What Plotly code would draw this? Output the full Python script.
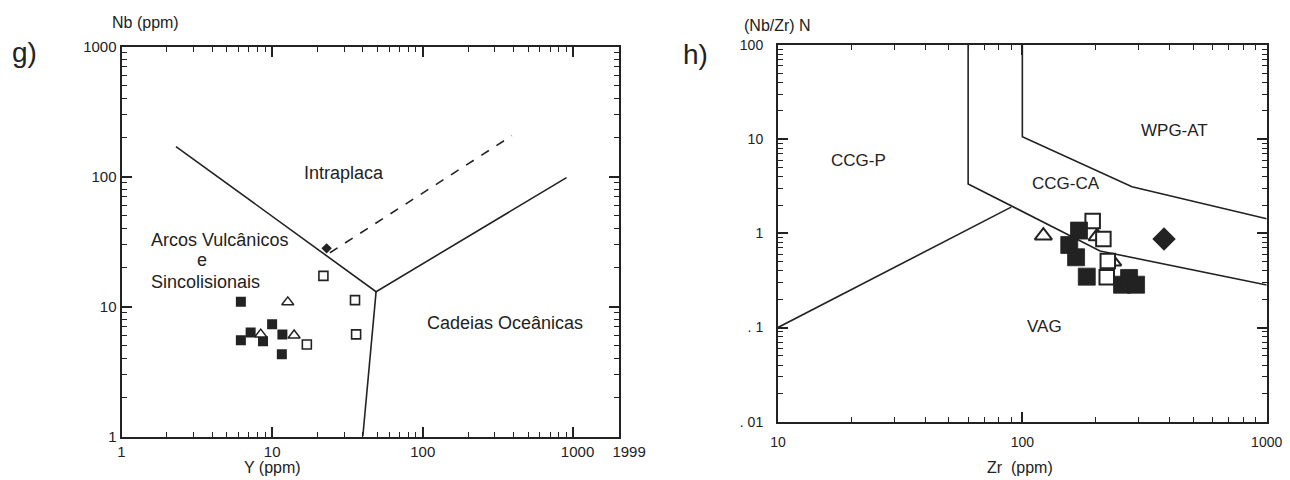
import plotly.graph_objects as go
import math

# ---------------- Panel g) Nb vs Y ----------------
g_fill_Y = [6.2, 6.2, 7.2, 8.7, 10.0, 11.7, 11.6]
g_fill_Nb = [10.9, 5.5, 6.3, 5.4, 7.3, 6.1, 4.3]
g_tri_Y = [12.7, 8.4, 14.0]
g_tri_Nb = [10.8, 6.1, 6.0]
g_open_Y = [21.9, 35.5, 36.1, 17.0]
g_open_Nb = [17.2, 11.2, 6.1, 5.1]
g_dia_Y = [23.0]
g_dia_Nb = [28.0]

g_line1_Y = [2.3, 49, 900]
g_line1_Nb = [170, 13, 98]
g_line2_Y = [49, 40]
g_line2_Nb = [13, 1]
g_dash_Y = [24.2, 390]
g_dash_Nb = [25.9, 206]

g_xticks = [1, 10, 100, 1000, 1999]
g_xtext = ["1", "10", "100", "\u00a0\u00a01000", "\u00a0\u00a0\u00a0\u00a0\u00a01999"]
g_yticks = [1, 10, 100, 1000]
g_ytext = ["1", "10", "100", "1000"]

# ---------------- Panel h) (Nb/Zr)N vs Zr ----------------
h_fill_Zr = [170.6, 155.6, 165.9, 183.5, 255.9, 273.4, 292]
h_fill_R = [1.07, 0.753, 0.557, 0.347, 0.285, 0.336, 0.285]
h_open_Zr = [194, 214.6, 223.7, 221.5]
h_open_R = [1.354, 0.872, 0.509, 0.342]
h_tri_Zr = [121.9, 202.2, 234.4]
h_tri_R = [0.945, 0.927, 0.50]
h_dia_Zr = [380]
h_dia_R = [0.872]

h_lineA_Zr = [60, 60, 208, 1000]
h_lineA_R = [100, 3.35, 0.65, 0.283]
h_lineB_Zr = [100, 100, 281, 1000]
h_lineB_R = [100, 10.6, 3.13, 1.43]
h_lineC_Zr = [10, 90]
h_lineC_R = [0.1, 1.9]

h_xticks = [10, 100, 1000]
h_xtext = ["10", "100", "1000"]
h_yticks = [0.01, 0.1, 1, 10, 100]
h_ytext = [". 01", ". 1", "1", "10", "100"]

INK = "#222222"
FONT = "Liberation Sans, Arial, sans-serif"

# page body has an 8px margin: figure occupies window from (8, 8)
OFF = 8
FW, FH = 1290 - OFF, 480 - OFF


def PX(p):
    return (p - OFF) / FW


def PY(p):
    return 1 - (p - OFF) / FH


def minor_vals(lo_exp, hi_exp, upto=None):
    vals = []
    for e in range(lo_exp, hi_exp):
        for m in range(2, 10):
            v = m * 10 ** e
            if upto is None or v < upto:
                vals.append(v)
    return vals


fig = go.Figure()


def add_line(x, y, xa, ya, dash="solid"):
    fig.add_trace(go.Scatter(x=x, y=y, mode="lines", xaxis=xa, yaxis=ya,
                             line=dict(color=INK, width=1.6, dash=dash),
                             hoverinfo="skip", showlegend=False))


def add_marks(x, y, xa, ya, symbol, size, fill, lw):
    fig.add_trace(go.Scatter(x=x, y=y, mode="markers", xaxis=xa, yaxis=ya,
                             marker=dict(symbol=symbol, size=size, color=fill,
                                         line=dict(color=INK, width=lw)),
                             showlegend=False))


# panel g lines
add_line(g_line1_Y, g_line1_Nb, "x", "y")
add_line(g_line2_Y, g_line2_Nb, "x", "y")
add_line(g_dash_Y, g_dash_Nb, "x", "y", dash="dash")
# panel g markers
add_marks(g_fill_Y, g_fill_Nb, "x", "y", "square", 10, INK, 0)
add_marks(g_tri_Y, g_tri_Nb, "x", "y", "triangle-up", 10.5, "white", 1.5)
add_marks(g_open_Y, g_open_Nb, "x", "y", "square", 9, "white", 1.6)
add_marks(g_dia_Y, g_dia_Nb, "x", "y", "diamond", 8, INK, 0)

# panel h lines
add_line(h_lineA_Zr, h_lineA_R, "x2", "y2")
add_line(h_lineB_Zr, h_lineB_R, "x2", "y2")
add_line(h_lineC_Zr, h_lineC_R, "x2", "y2")
# panel h markers
add_marks(h_tri_Zr, h_tri_R, "x2", "y2", "triangle-up", 15, "white", 2)
add_marks(h_open_Zr, h_open_R, "x2", "y2", "square", 14.5, "white", 2)
add_marks(h_fill_Zr, h_fill_R, "x2", "y2", "square", 17, INK, 0.8)
add_marks(h_dia_Zr, h_dia_R, "x2", "y2", "diamond", 18, INK, 0)

axis_common = dict(type="log", showline=True, linecolor=INK, linewidth=2,
                   mirror="ticks", ticks="inside", tickcolor=INK, tickwidth=1.5,
                   showgrid=False, zeroline=False, tickmode="array",
                   color=INK, automargin=False, tickangle=0)

fig.update_layout(
    width=FW, height=FH, autosize=False, showlegend=False,
    margin=dict(l=0, r=0, t=0, b=0, pad=0, autoexpand=False),
    paper_bgcolor="white", plot_bgcolor="white",
    font=dict(family=FONT, color=INK),
    xaxis=dict(axis_common, domain=[PX(121.5), PX(618.7)],
               range=[0, math.log10(1999)], anchor="y",
               tickvals=g_xticks, ticktext=g_xtext, ticklen=10,
               tickfont=dict(size=15), ticklabelstandoff=0,
               minor=dict(tickmode="array", tickvals=minor_vals(0, 4, 1999),
                          ticks="inside", ticklen=5, tickcolor=INK, tickwidth=1.3)),
    yaxis=dict(axis_common, domain=[PY(436.5), PY(46.5)],
               range=[0, 3], anchor="x",
               tickvals=g_yticks, ticktext=g_ytext, ticklen=10,
               tickfont=dict(size=15), ticklabelstandoff=0,
               minor=dict(tickmode="array", tickvals=minor_vals(0, 3),
                          ticks="inside", ticklen=5, tickcolor=INK, tickwidth=1.3)),
    xaxis2=dict(axis_common, domain=[PX(778), PX(1266.7)],
                range=[1, 3], anchor="y2",
                tickvals=h_xticks, ticktext=h_xtext, ticklen=10,
                tickfont=dict(size=14), ticklabelstandoff=6,
                minor=dict(tickmode="array", tickvals=minor_vals(1, 3),
                           ticks="inside", ticklen=5, tickcolor=INK, tickwidth=1.3)),
    yaxis2=dict(axis_common, domain=[PY(421.7), PY(45)],
                range=[-2, 2], anchor="x2",
                tickvals=h_yticks, ticktext=h_ytext, ticklen=10,
                tickfont=dict(size=14), ticklabelstandoff=10,
                minor=dict(tickmode="array", tickvals=minor_vals(-2, 2),
                           ticks="inside", ticklen=5, tickcolor=INK, tickwidth=1.3)),
)

# region labels (annotation coords on log axes are log10 values)
def label(text, x, y, xref, yref, size, xanchor="center"):
    fig.add_annotation(text=text, x=math.log10(x), y=math.log10(y),
                       xref=xref, yref=yref, showarrow=False,
                       xanchor=xanchor, yanchor="middle",
                       font=dict(size=size, color=INK, family=FONT))

label("Intraplaca", 30.0, 106, "x", "y", 18)
label("Arcos Vulcânicos", 1.53, 32.5, "x", "y", 18, xanchor="left")
label("e", 3.44, 22.8, "x", "y", 18)
label("Sincolisionais", 1.53, 15.5, "x", "y", 18, xanchor="left")
label("Cadeias Oceânicas", 349, 7.43, "x", "y", 18)

label("CCG-P", 21.3, 5.87, "x2", "y2", 17)
label("CCG-CA", 150.5, 3.35, "x2", "y2", 17)
label("WPG-AT", 418, 12.3, "x2", "y2", 17)
label("VAG", 123, 0.102, "x2", "y2", 17)

# titles and panel letters (paper coords)
def ptext(text, px, py, size):
    fig.add_annotation(text=text, x=PX(px), y=PY(py), xref="paper", yref="paper",
                       showarrow=False, xanchor="center", yanchor="middle",
                       font=dict(size=size, color=INK, family=FONT))

ptext("g)", 24, 53, 28)
ptext("h)", 695, 55, 28)
ptext("Nb (ppm)", 145, 22, 16)
ptext("(Nb/Zr) N", 777, 25, 16)
ptext("Y (ppm)", 272, 467, 16)
ptext("Zr  (ppm)", 1020, 467, 16)

fig.write_html("out.html")
